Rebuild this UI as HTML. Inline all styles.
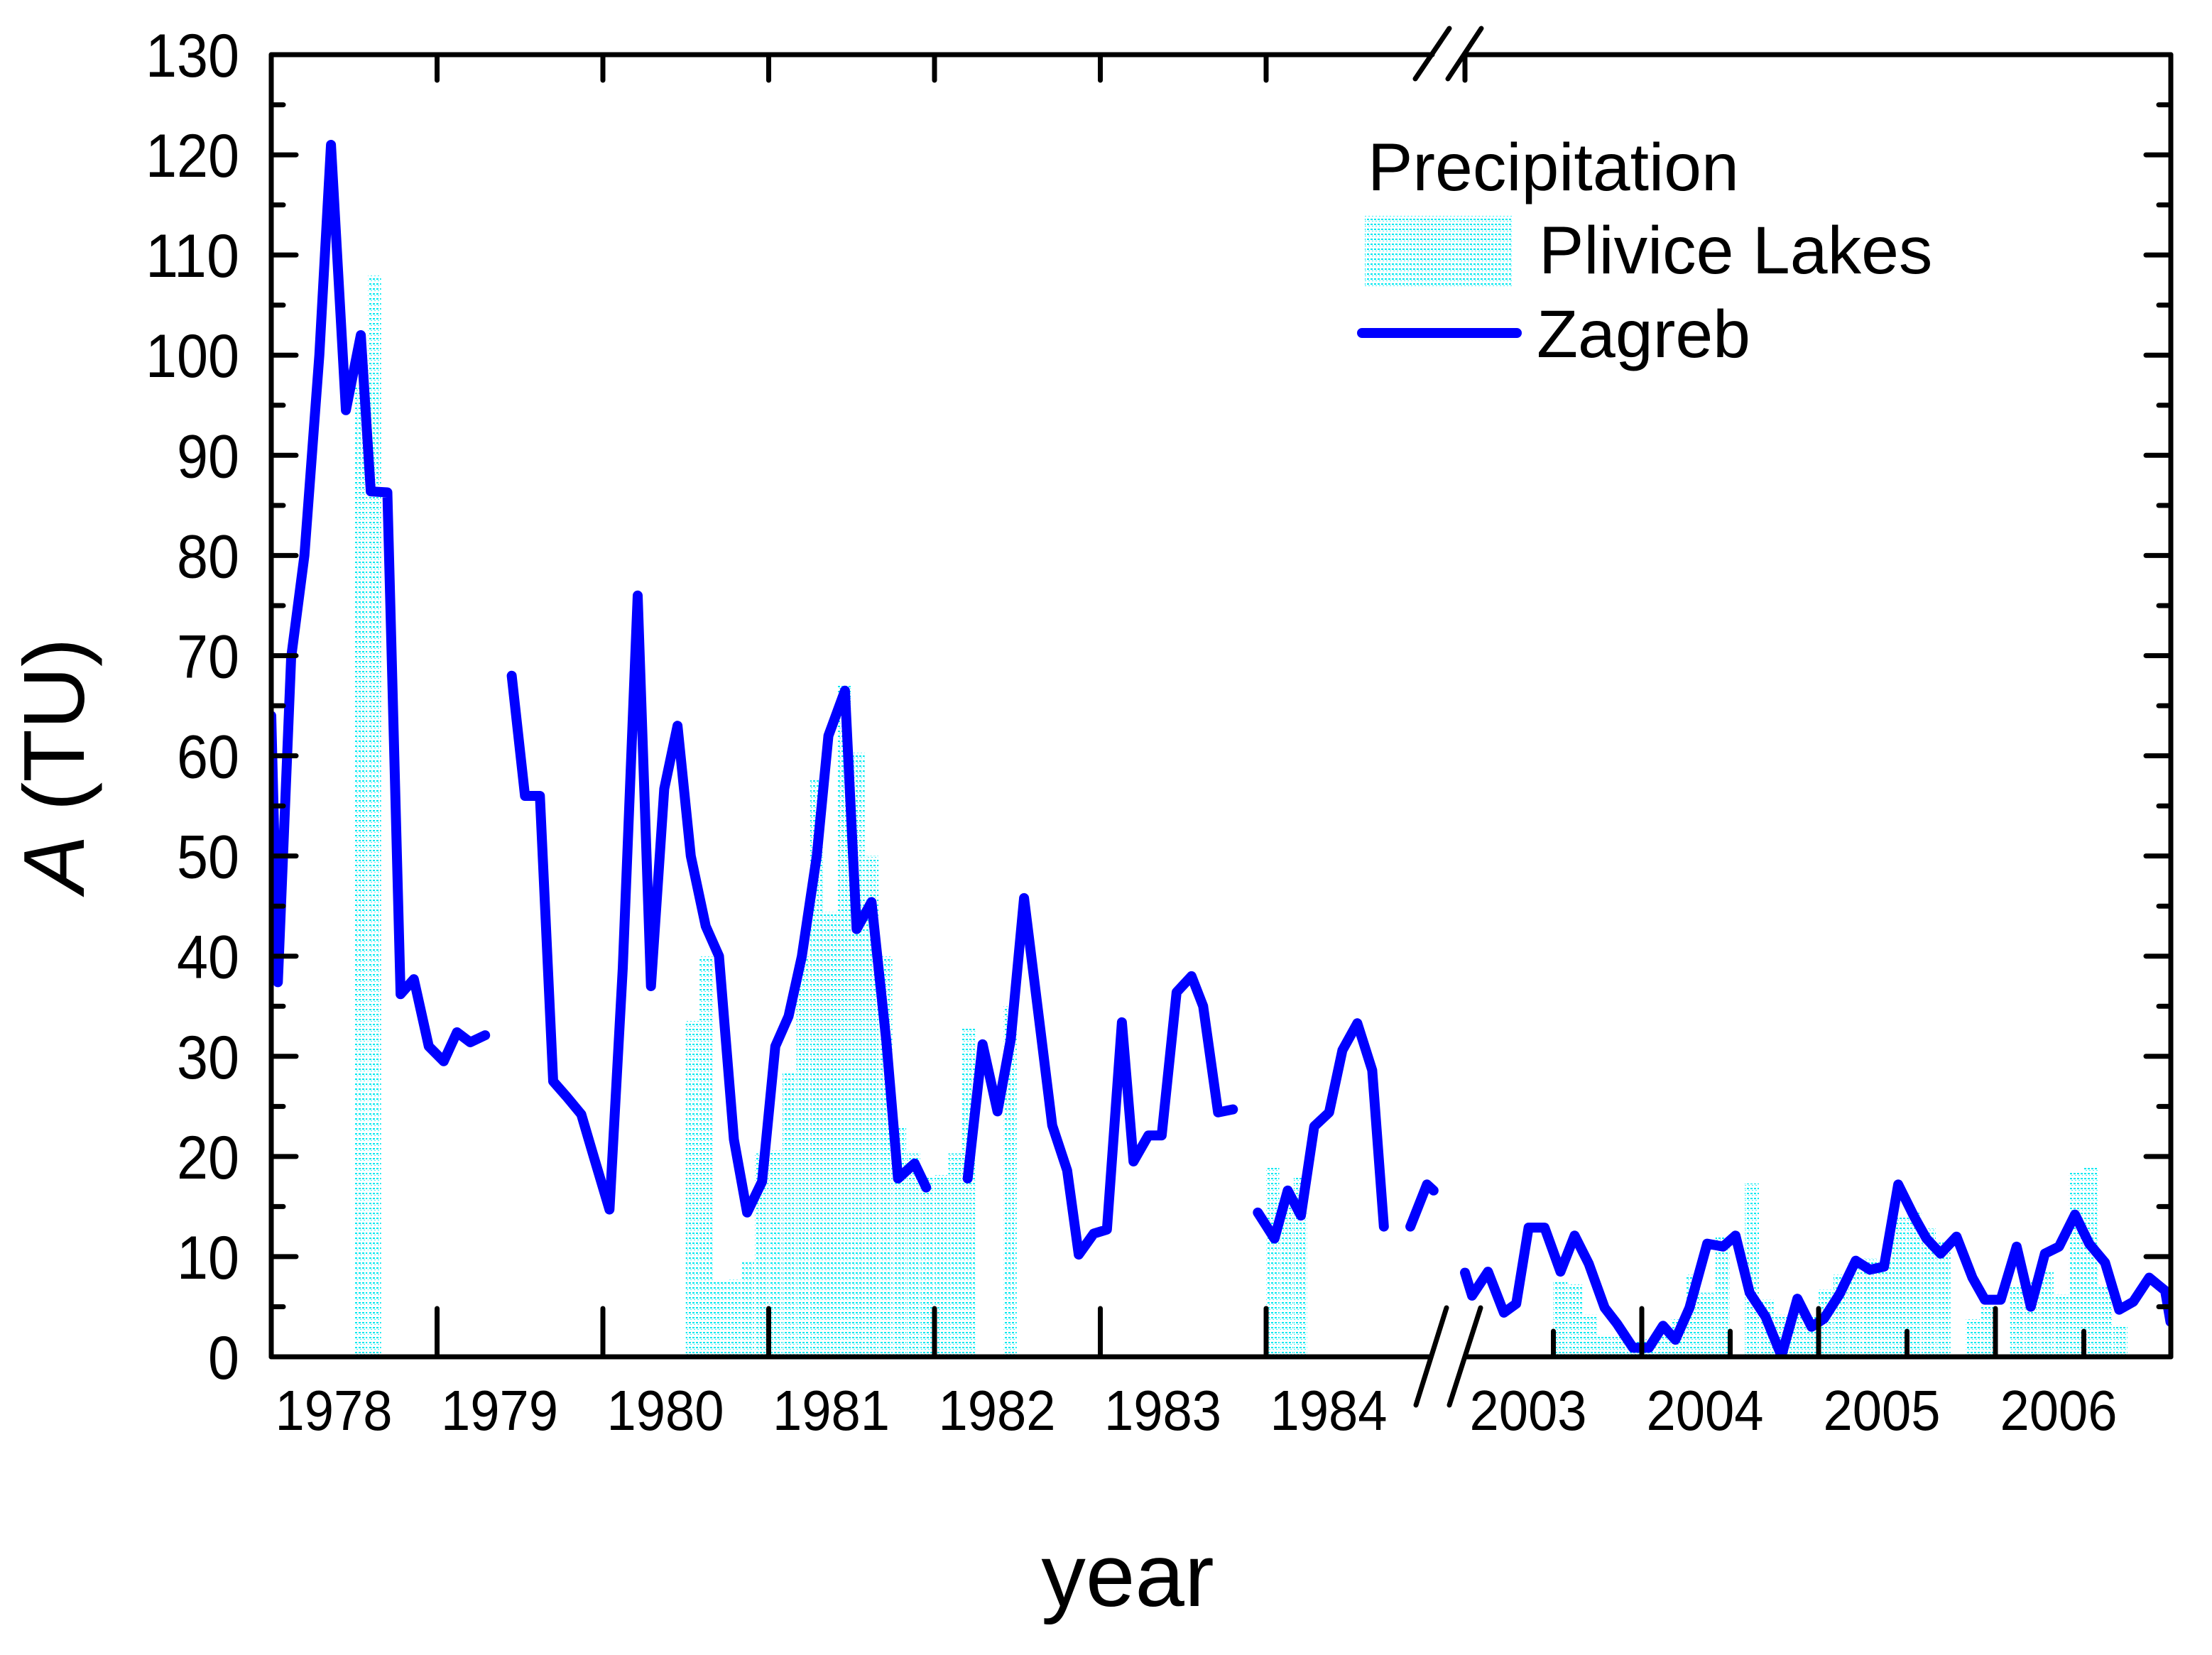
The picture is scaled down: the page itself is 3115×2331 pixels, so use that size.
<!DOCTYPE html>
<html><head><meta charset="utf-8"><style>
html,body{margin:0;padding:0;background:#fff;}
svg{display:block;font-family:"Liberation Sans",Arial,sans-serif;}
</style></head><body>
<svg id="chart" width="3115" height="2331" viewBox="0 0 3115 2331" xmlns="http://www.w3.org/2000/svg">
<defs>
<pattern id="hatch" width="5" height="7" patternUnits="userSpaceOnUse">
<rect x="0" y="0" width="3" height="2" fill="#00e8f0"/>
<rect x="2" y="3" width="2" height="1" fill="#40f0f8"/>
</pattern>
<clipPath id="plotclip"><rect x="382" y="77" width="2675" height="1834"/></clipPath>
</defs>
<g id="bars" clip-path="url(#plotclip)"></g>
<g id="lines" clip-path="url(#plotclip)"></g>
<g id="axes"></g>
<g id="legend">
<text x="1926" y="268" font-size="95">Precipitation</text>
<rect x="1922" y="303" width="208" height="100" fill="url(#hatch)"/>
<text x="2167" y="385" font-size="95">Plivice Lakes</text>
<line x1="1918" y1="469" x2="2136" y2="469" stroke="#0000ff" stroke-width="14" stroke-linecap="round"/>
<text x="2164" y="503" font-size="95">Zagreb</text>
</g>
<text x="1588" y="2262" font-size="125" text-anchor="middle">year</text>
<text x="0" y="0" font-size="122" text-anchor="middle" transform="translate(118,1078) rotate(-90)"><tspan font-style="italic">A</tspan> (TU)</text>
</svg>
<script>
// Precipitation at Plivice Lakes (bar start times, decimal years) and values
var barTimes1 = [6,7,30,31,32,33,34,35,36,37,38,39,40,41,42,43,44,45,46,47,48,49,50,53,72,73,74];
var barValues1 = [97,108,33.6,40,7.5,7.7,9.6,20.3,20.6,28.5,40,57.7,44.4,67.2,60.3,50,40,23,20.3,18,18.2,20.3,32.8,35,18.9,15.8,18.0];
var barTimes2 = [6,7,8,9,10,11,12,13,14,15,16,17,19,20,21,22,23,24,25,26,27,28,29,30,31,32,34,35,37,38,39,40,41,42,43,44];
var barValues2 = [7.6,7.3,4.2,2.2,2.0,1.5,1.8,2.0,3.8,8.2,6.4,12,17.3,5.7,4.2,4.4,4.1,6.7,8.2,9.4,9.8,9.6,13.9,14.5,12.8,11.6,3.8,5.1,7.1,7.6,8.6,6.2,18.5,18.9,7,3.1];
// Zagreb series (null = gap)
var zagTimes = [1978.00,1978.04,1978.12,1978.20,1978.29,1978.36,1978.45,1978.54,1978.60,1978.70,1978.78,1978.86,1978.95,1979.04,1979.12,1979.20,1979.29,null,
1979.45,1979.53,1979.62,1979.70,1979.78,1979.87,1979.95,1980.04,1980.12,1980.21,1980.29,1980.37,1980.45,1980.53,1980.62,1980.70,1980.79,1980.87,1980.96,1981.04,1981.12,1981.20,1981.29,1981.36,1981.46,1981.53,1981.62,1981.71,1981.78,1981.88,1981.95,null,
1982.20,1982.29,1982.38,1982.46,1982.54,1982.63,1982.71,1982.80,1982.87,1982.96,1983.04,1983.13,1983.20,1983.29,1983.37,1983.46,1983.55,1983.62,1983.71,1983.80,null,
1983.95,1984.05,1984.13,1984.21,1984.29,1984.38,1984.46,1984.55,1984.64,1984.71,null,
1984.87,1984.97,1985.01,null,
2003.00,2003.04,2003.13,2003.22,2003.29,2003.36,2003.45,2003.54,2003.62,2003.70,2003.79,2003.86,2003.95,2004.04,2004.12,2004.19,2004.27,2004.37,2004.46,2004.53,2004.61,2004.70,2004.79,2004.88,2004.96,2005.03,2005.12,2005.21,2005.29,2005.37,2005.45,2005.54,2005.61,2005.69,2005.78,2005.87,2005.94,2006.03,2006.12,2006.20,2006.28,2006.36,2006.45,2006.53,2006.62,2006.70,2006.78,2006.87,2006.96,2006.99];
var zagValues = [64,37.4,69.8,80,100,121,94.5,102,86.4,86.3,36.2,37.7,31,29.5,32.4,31.4,32.1,null,
68,56,56,27.5,26,24.2,19.7,14.7,38.8,76,37,56.7,63,50,43,40,21.7,14.4,17.5,31,34,40,50,62,66.5,42.7,45.4,31.4,17.8,19.3,16.9,null,
17.8,31.2,24.5,31.7,45.8,33.8,23.1,18.6,10.2,12.3,12.7,33.4,19.5,22.1,22.1,36.4,38,35,24.4,24.7,null,
14.4,11.8,16.6,14.1,23,24.4,30.6,33.3,28.6,13,null,
13,17.2,16.6,null,
8.4,6.1,8.5,4.4,5.3,12.9,12.9,8.5,12.1,9.3,4.9,3.3,0.9,0.9,3.1,1.7,4.9,11.3,11,12.1,6.4,4.0,0.1,5.8,3,3.8,6.3,9.6,8.7,9,17.2,14,11.8,10.3,12,7.9,5.7,5.7,11,5,10.3,11,14.2,11.3,9.4,4.7,5.5,7.9,6.6,3.5];
var yTicks = [0,10,20,30,40,50,60,70,80,90,100,110,120,130];
var yearLabels1 = [1978,1979,1980,1981,1982,1983,1984];
var yearLabels2 = [2003,2004,2005,2006];

var NS = "http://www.w3.org/2000/svg";
var L=382,R=3057,T=77,B=1911;
function xs(t){ return t<1990 ? L+(t-1978)*233.5 : 2063+(t-2003)*249; }
function ys(v){ return B-v*(B-T)/130; }
function mk(tag,attrs,parent){ var e=document.createElementNS(NS,tag); for(var k in attrs) e.setAttribute(k,attrs[k]); parent.appendChild(e); return e; }

var gb=document.getElementById('bars');
barTimes1.forEach(function(m,i){
  var t=1978+m/12, x0=xs(t), x1=xs(t+1/12);
  var r=mk('rect',{x:x0,y:ys(barValues1[i]),width:x1-x0-1,height:B-ys(barValues1[i]),fill:'url(#hatch)'},gb);
  
  
});
barTimes2.forEach(function(m,i){
  var t=2003+m/12, x0=xs(t), x1=xs(t+1/12);
  var r=mk('rect',{x:x0,y:ys(barValues2[i]),width:x1-x0-1,height:B-ys(barValues2[i]),fill:'url(#hatch)'},gb);
  
  
});

var gl=document.getElementById('lines');
var d='',pen=false;
for(var i=0;i<zagTimes.length;i++){
  if(zagTimes[i]===null){pen=false;continue;}
  d+=(pen?'L':'M')+xs(zagTimes[i]).toFixed(1)+' '+ys(zagValues[i]).toFixed(1)+' ';
  pen=true;
}
var p=mk('path',{d:d,fill:'none',stroke:'#0000ff','stroke-width':14,'stroke-linejoin':'round','stroke-linecap':'round'},gl);



var ga=document.getElementById('axes');
var st={stroke:'#000','stroke-width':7,'stroke-linecap':'round',fill:'none'};
function ln(x1,y1,x2,y2,name){ var a={x1:x1,y1:y1,x2:x2,y2:y2}; for(var k in st)a[k]=st[k]; var e=mk('line',a,ga);   return e; }
ln(L,T,L,B,'y-axis-left');
ln(R,T,R,B,'y-axis-right');
ln(L,T,2017,T,'top-axis-left');
ln(2063,T,R,T,'top-axis-right');
ln(L,B,2015,B,'x-axis-left');
ln(2063,B,R,B,'x-axis-right');
ln(1993,111,2041,40,'break-mark-top');
ln(2039,111,2086,40,'break-mark-top');
ln(1994,1979,2037,1842,'break-mark-bottom');
ln(2041,1979,2085,1842,'break-mark-bottom');
// y ticks
yTicks.forEach(function(v){
  var y=ys(v);
  if(v>0 && v<130){ ln(L,y,L+35,y,'y-tick'); ln(R,y,R-35,y,'y-tick'); }
  if(v<130){ ln(L,y-70.5,L+17,y-70.5,'y-minor-tick'); ln(R,y-70.5,R-17,y-70.5,'y-minor-tick'); }
  var t=mk('text',{x:337,y:y+31,'font-size':86,'text-anchor':'end',textLength:String(v).length*44,lengthAdjust:'spacingAndGlyphs'},ga);
  t.textContent=v;
  
  
});
// x ticks & labels
yearLabels1.forEach(function(yr){
  var xb=xs(yr);
  if(yr>1978){ ln(xb,B,xb,B-68,'x-tick'); ln(xb,T,xb,T+36,'x-tick-top'); }
  var t=mk('text',{x:xs(yr)+88,y:2014,'font-size':80,'text-anchor':'middle',textLength:165,lengthAdjust:'spacingAndGlyphs'},ga);
  t.textContent=yr;
  
  
});
ln(xs(1984),B,xs(1984),B-68,'x-tick');
ln(2063,T,2063,T+36,'x-tick-top');
yearLabels2.forEach(function(yr){
  var xb=xs(yr);
  if(yr>2003){ ln(xb,B,xb,B-68,'x-tick'); }
  ln(xb+124.5,B,xb+124.5,B-36,'x-minor-tick');
  var t=mk('text',{x:xb+89,y:2014,'font-size':80,'text-anchor':'middle',textLength:165,lengthAdjust:'spacingAndGlyphs'},ga);
  t.textContent=yr;
  
  
});
</script>
</body></html>
